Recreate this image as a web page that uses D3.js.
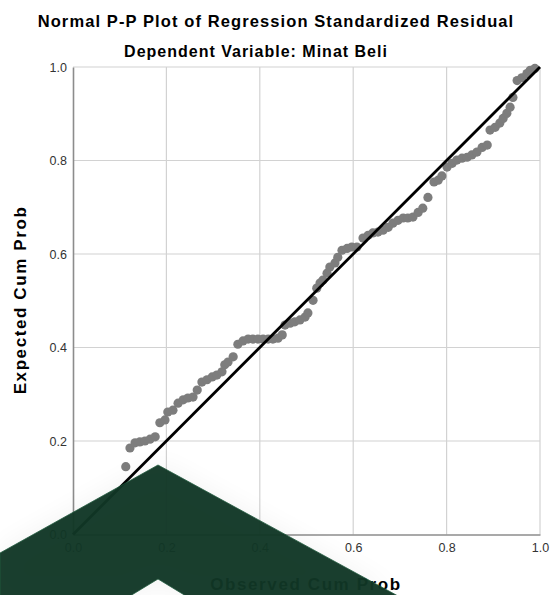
<!DOCTYPE html>
<html>
<head>
<meta charset="utf-8">
<script src="https://cdn.jsdelivr.net/npm/d3@7"></script>
<style>
body { margin: 0; background: #fff; }
svg text { font-family: "Liberation Sans", Arial, sans-serif; }
</style>
</head>
<body>
<svg id="chart" width="550" height="595"></svg>
<script>
// observed cum prob (x) / expected cum prob (y)
const observed = [0.113,0.122,0.133,0.143,0.154,0.165,0.176,0.186,0.197,0.203,
	0.214,0.225,0.236,0.246,0.257,0.266,0.276,0.287,0.298,0.308,
	0.319,0.325,0.332,0.343,0.353,0.364,0.375,0.385,0.396,0.407,
	0.418,0.428,0.439,0.448,0.454,0.465,0.475,0.486,0.497,0.503,
	0.514,0.522,0.529,0.535,0.544,0.550,0.561,0.567,0.576,0.587,
	0.597,0.608,0.621,0.632,0.642,0.653,0.664,0.675,0.685,0.696,
	0.707,0.717,0.728,0.739,0.749,0.760,0.773,0.782,0.790,0.801,
	0.812,0.822,0.833,0.844,0.854,0.865,0.876,0.887,0.893,0.904,
	0.914,0.921,0.929,0.936,0.942,0.951,0.961,0.972,0.979,0.989];
const expected = [0.145,0.185,0.196,0.198,0.200,0.204,0.209,0.239,0.245,0.262,
	0.266,0.281,0.288,0.292,0.294,0.309,0.326,0.331,0.337,0.341,
	0.348,0.363,0.369,0.380,0.407,0.414,0.418,0.418,0.418,0.418,
	0.418,0.418,0.420,0.427,0.448,0.452,0.455,0.459,0.465,0.474,
	0.501,0.527,0.538,0.544,0.559,0.572,0.581,0.593,0.608,0.612,
	0.615,0.615,0.634,0.640,0.645,0.647,0.651,0.657,0.666,0.672,
	0.677,0.677,0.679,0.689,0.698,0.721,0.754,0.758,0.767,0.786,
	0.794,0.801,0.805,0.807,0.812,0.818,0.828,0.833,0.865,0.871,
	0.880,0.890,0.901,0.914,0.935,0.971,0.977,0.986,0.993,0.997];
const tickValues = [0.0, 0.2, 0.4, 0.6, 0.8, 1.0];

const svg = d3.select("#chart");
const x = d3.scaleLinear().domain([0, 1]).range([73, 540]);
const y = d3.scaleLinear().domain([0, 1]).range([534.5, 67]);

// gridlines
svg.append("g")
.selectAll("line")
.data(tickValues.slice(1))
.join("line")
.attr("x1", d => x(d)).attr("x2", d => x(d))
.attr("y1", y(0)).attr("y2", y(1))
.attr("stroke", "#d2d2d2")
.attr("stroke-width", 1.2);

svg.append("g")
.selectAll("line")
.data(tickValues.slice(1))
.join("line")
.attr("x1", x(0)).attr("x2", x(1))
.attr("y1", d => y(d)).attr("y2", d => y(d))
.attr("stroke", "#d2d2d2")
.attr("stroke-width", 1.2);

// axes
const xAxis = svg.append("g")
.attr("transform", `translate(0,${y(0)})`)
.call(d3.axisBottom(x).tickValues(tickValues).tickFormat(d3.format(".1f")).tickSize(0).tickPadding(9));
const yAxis = svg.append("g")
.attr("transform", `translate(${x(0)},0)`)
.call(d3.axisLeft(y).tickValues(tickValues).tickFormat(d3.format(".1f")).tickSize(0).tickPadding(6));

[xAxis, yAxis].forEach(a => {
	a.select(".domain").attr("stroke", "#8c8c8c").attr("stroke-width", 1.6);
	a.selectAll("text").attr("fill", "#333").style("font-size", "12.5px");
});

// points
svg.append("g")
.selectAll("circle")
.data(observed)
.join("circle")
.attr("cx", d => x(d))
.attr("cy", (d,i) => y(expected[i]))
.attr("r", 4.6)
.attr("fill", "#7d7d7d");

// reference line
svg.append("line")
.attr("x1", x(0)).attr("y1", y(0))
.attr("x2", x(1)).attr("y2", y(1))
.attr("stroke", "#000")
.attr("stroke-width", 2.8);

// titles
svg.append("text")
.attr("x", 276).attr("y", 27)
.attr("text-anchor", "middle")
.style("font-size", "16.5px").style("font-weight", "bold")
.style("letter-spacing", "1.1px")
.text("Normal P-P Plot of Regression Standardized Residual");

svg.append("text")
.attr("x", 256).attr("y", 57)
.attr("text-anchor", "middle")
.style("font-size", "16px").style("font-weight", "bold")
.style("letter-spacing", "1px")
.text("Dependent Variable: Minat Beli");

svg.append("text")
.attr("transform", "translate(26,300) rotate(-90)")
.attr("text-anchor", "middle")
.style("font-size", "17px").style("font-weight", "bold")
.style("letter-spacing", "1.6px")
.text("Expected Cum Prob");

svg.append("text")
.attr("x", 306).attr("y", 590)
.attr("text-anchor", "middle")
.style("font-size", "17px").style("font-weight", "bold")
.style("letter-spacing", "1.6px")
.text("Observed Cum Prob");

// green chevron overlay
const chevron = [[0,553],[158,465],[398,596],[186,596],[158,579],[130,596],[0,596]];
const defs = svg.append("defs");
defs.append("filter").attr("id", "halo")
.attr("x", "-20%").attr("y", "-40%").attr("width", "140%").attr("height", "180%")
.append("feGaussianBlur").attr("stdDeviation", 14);

svg.append("path")
.attr("d", d3.line()(chevron) + "Z")
.attr("fill", "#000")
.attr("opacity", 0.05)
.attr("filter", "url(#halo)");

svg.append("path")
.attr("d", d3.line()(chevron) + "Z")
.attr("fill", "#113726")
.attr("stroke", "#1b5539")
.attr("stroke-width", 0.8)
.attr("opacity", 0.96);
</script>
</body>
</html>
